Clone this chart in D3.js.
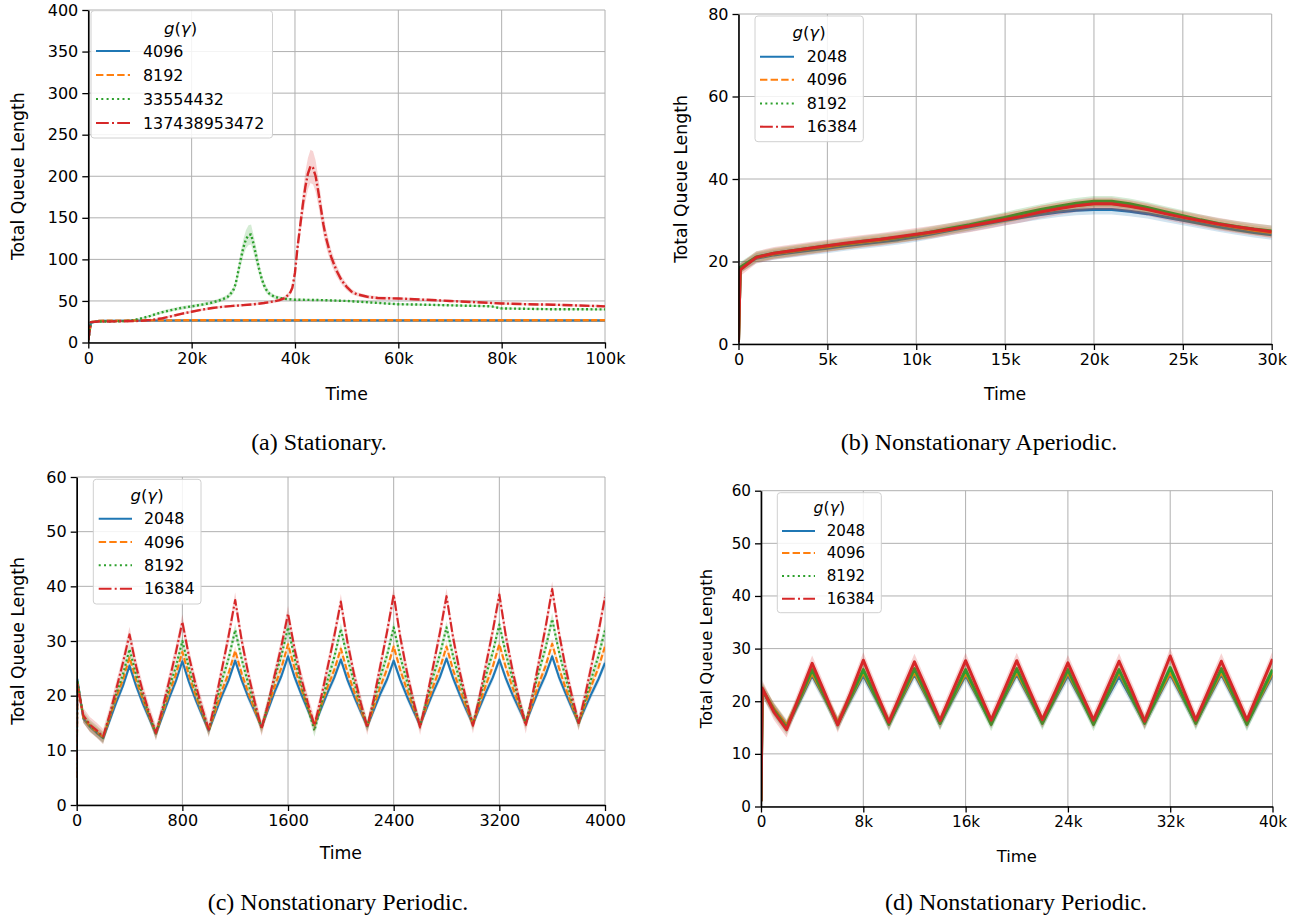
<!DOCTYPE html>
<html><head><meta charset="utf-8">
<script src="https://cdn.jsdelivr.net/npm/d3@7"></script>
<style>body{margin:0;background:#fff} svg{display:block}</style>
</head><body>
<svg id="chart" width="1300" height="917"></svg>
<script>
// ---------- shared ----------
const seriesColors = ["#1f77b4","#ff7f0e","#2ca02c","#d62728"];
const legendTitle = "g(γ)";

// ---------- panel (a) Stationary ----------
const aLabels = ["4096","8192","33554432","137438953472"];
const aXTicks = [0,20000,40000,60000,80000,100000];
const aYTicks = [0,50,100,150,200,250,300,350,400];
const aFlatT = [0,500,2000,10000,20000,30000,40000,50000,60000,70000,80000,90000,100000];
const aBlue = [3,24,25.8,26.3,26.4,26.4,26.5,26.4,26.5,26.4,26.5,26.4,26.5];
const aOrange = [3,24.5,26,26.6,26.7,26.7,26.8,26.7,26.8,26.7,26.8,26.7,26.8];
const aGreenT = [0,500,2000,6000,8000,10000,12000,14000,16000,18000,20000,22000,24000,26000,27000,28000,28500,29000,29500,30000,30500,31000,31500,32000,32500,33000,33500,34000,34500,35000,36000,37000,38000,40000,45000,50000,55000,60000,65000,70000,75000,78000,80000,85000,90000,95000,100000];
const aGreen = [3,24.5,25.2,25.5,26.0,28.5,32.0,36.0,39.0,41.5,43.5,45.5,48.0,52.0,55.0,62.0,70.0,85.0,100.0,114.0,124.0,129.0,130.0,118.0,104.0,90.0,78.0,69.0,63.0,59.0,55.0,53.5,52.5,51.5,51.0,50.0,48.0,46.0,45.5,44.7,44.0,43.5,41.0,40.5,40.0,40.0,39.8];
const aGreenCI = [0.5,1,1,1,1,1.2,1.5,1.8,2,2,2,2,2.2,2.5,3,4,5,7,9,10,11,12,12,11,10,8,6,5,4,3,2.5,2,1.5,1.5,1.2];
const aRedT = [0,500,2000,6000,10000,12000,14000,16000,18000,20000,22000,24000,26000,28000,30000,32000,34000,36000,37000,38000,39000,39500,40000,40500,41000,41500,42000,42500,43000,43500,44000,44500,45000,45500,46000,47000,48000,49000,50000,51000,52000,54000,56000,60000,65000,70000,75000,80000,85000,90000,95000,100000];
const aRed = [3,24.5,25.2,25.5,26.0,27.0,28.8,31.5,34.5,37.0,39.5,41.5,43.0,44.0,45.0,46.0,47.5,49.5,51.0,53.5,59.0,66.0,84.0,115.0,140.0,165.0,187.0,203.0,212.0,210.0,200.0,182.0,162.0,142.0,126.0,103.0,87.0,75.0,67.0,61.0,58.0,55.0,53.5,53.0,51.5,50.0,48.5,47.0,46.0,45.5,44.5,43.5];
const aRedCI = [0.5,1,1,1,1,1,1.2,1.5,1.5,1.5,1.5,1.5,1.5,1.5,1.5,1.5,1.5,2,2,2.5,3,4,6,9,12,15,18,19,20,20,19,17,15,13,11,9,7,5,4,3,2.5,2,2];

// ---------- panel (b) Nonstationary Aperiodic ----------
const bLabels = ["2048","4096","8192","16384"];
const bXTicks = [0,5000,10000,15000,20000,25000,30000];
const bYTicks = [0,20,40,60,80];
const bT = [0,100,1000,2000,3000,4000,5000,6000,7000,8000,9000,10000,11000,12000,13000,14000,15000,16000,17000,18000,19000,20000,21000,22000,23000,24000,25000,26000,27000,28000,29000,30000];
const bBlue = [0.5,18.5,20.8,21.6,22.2,22.7,23.2,23.8,24.3,24.8,25.3,26.0,26.8,27.6,28.4,29.2,30.0,30.7,31.4,32.0,32.4,32.6,32.6,32.2,31.6,30.8,30.0,29.2,28.4,27.7,27.0,26.5];
const bOrange = [0.5,18.3,21.0,21.9,22.5,23.1,23.6,24.2,24.7,25.2,25.8,26.4,27.1,27.9,28.7,29.6,30.5,31.4,32.3,33.0,33.6,34.0,34.0,33.5,32.7,31.8,30.8,29.9,29.0,28.3,27.6,27.0];
const bGreen = [0.5,18.6,21.1,22.0,22.6,23.2,23.8,24.3,24.9,25.4,25.9,26.5,27.3,28.1,28.9,29.8,30.7,31.7,32.6,33.4,34.1,34.6,34.6,34.0,33.1,32.1,31.1,30.1,29.2,28.5,27.9,27.4];
const bRed = [0.5,18.0,21.0,22.0,22.6,23.2,23.8,24.4,24.9,25.4,26.0,26.6,27.2,27.9,28.6,29.4,30.2,31.0,32.0,32.8,33.5,34.0,34.0,33.4,32.6,31.6,30.7,29.9,29.1,28.4,27.8,27.2];
const bCI = [1.2,1.2,1.3,1.5];

// ---------- panel (c) Nonstationary Periodic ----------
const cLabels = ["2048","4096","8192","16384"];
const cXTicks = [0,800,1600,2400,3200,4000];
const cYTicks = [0,10,20,30,40,50,60];
const cT = [0,5,50,100,150,200,250,300,350,400,450,500,550,600,650,700,750,800,850,900,950,1000,1050,1100,1150,1200,1250,1300,1350,1400,1450,1500,1550,1600,1650,1700,1750,1800,1850,1900,1950,2000,2050,2100,2150,2200,2250,2300,2350,2400,2450,2500,2550,2600,2650,2700,2750,2800,2850,2900,2950,3000,3050,3100,3150,3200,3250,3300,3350,3400,3450,3500,3550,3600,3650,3700,3750,3800,3850,3900,3950,4000];
const cBlue = [5,23,15.8,14.3,13.2,12.2,15.5,18.8,21.8,25.5,21.8,18.6,15.8,13.0,16.3,19.6,22.6,26.3,22.5,19.3,16.4,13.6,16.8,20.0,22.8,26.4,22.8,19.7,17.0,14.3,17.5,20.8,23.6,27.2,23.4,20.3,17.4,14.6,17.6,20.6,23.3,26.6,22.9,19.9,17.1,14.4,17.4,20.4,23.0,26.4,22.9,19.9,17.2,14.6,17.7,20.7,23.4,26.8,23.2,20.2,17.4,14.8,17.8,20.7,23.3,26.6,23.1,20.2,17.6,15.0,18.1,21.1,23.8,27.2,23.5,20.5,17.7,15.0,17.8,20.5,23.0,26.0];
const cOrange = [5,22.5,16.0,14.4,13.4,12.4,16.0,19.7,22.9,27.0,22.8,19.4,16.2,13.1,16.8,20.5,23.8,28.0,23.7,20.1,16.8,13.7,17.3,21.0,24.1,28.2,24.0,20.5,17.3,14.2,18.0,21.8,25.1,29.4,25.0,21.3,17.9,14.6,18.1,21.6,24.7,28.6,24.3,20.8,17.5,14.4,18.0,21.7,24.9,29.0,24.7,21.1,17.8,14.6,18.2,21.8,25.0,29.0,24.7,21.2,17.9,14.8,18.4,22.1,25.3,29.4,25.1,21.5,18.2,15.0,18.6,22.3,25.4,29.5,25.2,21.5,18.2,15.0,18.5,22.0,25.1,29.0];
const cGreen = [5,22.8,16.2,14.5,13.5,12.3,16.3,20.4,23.9,28.5,23.9,20.0,16.4,13.0,17.3,21.5,25.2,30.0,25.1,21.0,17.2,13.6,18.2,22.8,26.8,32.0,26.6,22.1,18.0,14.0,18.6,23.3,27.3,32.5,26.8,22.1,17.8,13.6,18.3,22.9,27.0,32.2,26.9,22.4,18.3,14.4,18.9,23.5,27.4,32.5,27.1,22.7,18.5,14.6,19.1,23.6,27.5,32.5,27.2,22.8,18.7,14.8,19.4,23.9,27.9,33.0,27.6,23.1,19.0,15.0,19.8,24.5,28.7,34.0,28.2,23.4,19.0,14.8,19.1,23.4,27.2,32.0];
const cRed = [5,22,16.4,14.7,13.7,12.5,16.6,21.3,26.0,31.2,25.4,20.8,16.8,13.2,17.7,22.7,27.8,33.5,27.2,22.1,17.7,13.8,19.0,24.9,30.9,37.5,30.0,23.9,18.7,14.0,18.6,23.9,29.1,35.0,28.5,23.2,18.7,14.6,19.6,25.2,30.9,37.2,29.8,23.9,18.8,14.2,19.5,25.6,31.7,38.5,30.7,24.4,19.0,14.2,19.5,25.5,31.5,38.2,30.6,24.4,19.2,14.5,19.8,25.8,31.8,38.5,30.8,24.6,19.3,14.5,20.0,26.3,32.5,39.5,31.7,25.3,19.9,15.0,20.1,25.8,31.6,38.0];
const cCI = [0.8,0.9,1.1,1.4];

// ---------- panel (d) Nonstationary Periodic ----------
const dLabels = ["2048","4096","8192","16384"];
const dXTicks = [0,8000,16000,24000,32000,40000];
const dYTicks = [0,10,20,30,40,50,60];
const dT = [0,100,1000,2000,3000,4000,5000,6000,7000,8000,9000,10000,11000,12000,13000,14000,15000,16000,17000,18000,19000,20000,21000,22000,23000,24000,25000,26000,27000,28000,29000,30000,31000,32000,33000,34000,35000,36000,37000,38000,39000,40000];
const dBlue = [1,22.0,18.5,15.2,20.0,25.0,20.5,15.8,20.4,25.0,20.5,15.8,20.5,25.2,20.6,15.8,20.5,25.0,20.5,16.0,20.6,25.2,20.6,16.0,20.5,25.0,20.5,16.0,20.4,24.8,20.4,16.0,20.6,25.2,20.6,16.0,20.6,25.2,20.5,15.8,20.4,25.0];
const dOrange = [1,22.2,18.6,15.4,20.3,25.4,20.7,16.0,20.7,25.5,20.8,16.1,20.8,25.6,20.9,16.1,20.8,25.4,20.8,16.2,20.9,25.6,20.9,16.2,20.8,25.5,20.8,16.2,20.8,25.6,20.8,16.2,20.9,25.6,20.9,16.2,20.9,25.6,20.8,16.0,20.7,25.4];
const dGreen = [1,22.3,18.3,15.0,20.4,26.0,20.8,15.6,20.8,26.0,20.8,15.6,20.9,26.2,21.0,15.8,20.9,26.0,20.8,15.6,20.9,26.2,21.0,15.8,20.9,26.0,20.8,15.6,20.8,26.0,20.8,15.8,21.0,26.4,21.0,15.8,21.0,26.2,20.9,15.6,20.9,26.0];
const dRed = [1,22.5,18.0,14.6,21.0,27.2,21.5,15.5,21.5,27.8,21.8,16.0,21.8,27.5,22.0,16.3,22.0,27.7,22.0,16.4,22.0,27.7,22.0,16.5,21.8,27.3,21.8,16.4,22.0,27.6,22.0,16.2,22.4,28.6,22.4,16.4,22.0,27.6,22.0,16.4,22.2,28.0];
const dCI = [1.2,1.2,1.3,1.5];

// ---------- drawing ----------
const svg = d3.select("#chart");
const defs = svg.append("defs");
const DASH_FOR = ["", "7.4,3.2", "2,3.3", "12.8,3.2,2,3.2"];
const PLOT_DASH = ["", "6,2.5", "2,2.5", "10,2.5,2,2.5"];
const kFmt = d => d === 0 ? "0" : (d/1000) + "k";

function drawPanel(cfg) {
  const fs = cfg.fs || 1;
  const g = svg.append("g");
  const x = d3.scaleLinear().domain(cfg.xDomain).range([cfg.x0, cfg.x1]);
  const y = d3.scaleLinear().domain(cfg.yDomain).range([cfg.yBottom, cfg.yTop]);

  defs.append("clipPath").attr("id", "clip" + cfg.id).append("rect")
    .attr("x", cfg.x0).attr("y", cfg.yTop)
    .attr("width", cfg.x1 - cfg.x0).attr("height", cfg.yBottom - cfg.yTop);

  // grid
  const grid = g.append("g").attr("stroke", "#b0b0b0").attr("stroke-width", 1);
  grid.selectAll(".gx").data(cfg.xTicks).join("line")
    .attr("x1", d => x(d)).attr("x2", d => x(d)).attr("y1", cfg.yTop).attr("y2", cfg.yBottom);
  grid.selectAll(".gy").data(cfg.yTicks).join("line")
    .attr("x1", cfg.x0).attr("x2", cfg.x1).attr("y1", d => y(d)).attr("y2", d => y(d));

  const plot = g.append("g").attr("clip-path", `url(#clip${cfg.id})`);
  cfg.series.forEach((s, i) => {
    const pts = s.t.map((t, j) => ({
      t, v: s.v[j],
      c: (s.ci && s.ci[j] !== undefined) ? s.ci[j] : s.ciDefault
    }));
    plot.append("path").datum(pts)
      .attr("d", d3.line().x(d => x(d.t)).y(d => y(d.v)))
      .attr("fill", "none").attr("stroke", seriesColors[i])
      .attr("stroke-width", cfg.lineWidth)
      .attr("stroke-linejoin", "round")
      .attr("stroke-dasharray", cfg.plainLines ? null : (PLOT_DASH[i] || null));
    plot.append("path").datum(pts)
      .attr("d", d3.area().x(d => x(d.t)).y0(d => y(d.v - d.c)).y1(d => y(d.v + d.c)))
      .attr("fill", seriesColors[i]).attr("fill-opacity", 0.2).attr("stroke", "none");
  });

  // axes
  const tickFont = 16 * fs;
  const xAxis = d3.axisBottom(x).tickValues(cfg.xTicks).tickFormat(cfg.xFmt)
    .tickSize(6).tickSizeOuter(0).tickPadding(4);
  const yAxis = d3.axisLeft(y).tickValues(cfg.yTicks).tickFormat(d3.format("d"))
    .tickSize(6).tickSizeOuter(0).tickPadding(4);
  const gx = g.append("g").attr("transform", `translate(0,${cfg.yBottom})`).call(xAxis);
  const gy = g.append("g").attr("transform", `translate(${cfg.x0},0)`).call(yAxis);
  [gx, gy].forEach(a => {
    a.select(".domain").attr("stroke", "#000").attr("stroke-width", 1.6);
    a.selectAll(".tick line").attr("stroke", "#000").attr("stroke-width", 1.3);
    a.selectAll(".tick text").attr("fill", "#000")
      .attr("font-family", "DejaVu Sans").attr("font-size", tickFont);
  });

  // axis labels
  g.append("text").attr("x", (cfg.x0 + cfg.x1) / 2).attr("y", cfg.timeY)
    .attr("text-anchor", "middle").attr("dominant-baseline", "central")
    .attr("font-family", "DejaVu Sans").attr("font-size", 17.3 * fs).text("Time");
  g.append("text")
    .attr("transform", `translate(${cfg.ylabelX},${(cfg.yTop + cfg.yBottom) / 2}) rotate(-90)`)
    .attr("text-anchor", "middle").attr("dominant-baseline", "central")
    .attr("font-family", "DejaVu Sans").attr("font-size", 17.3 * fs).text("Total Queue Length");

  // legend
  const L = cfg.legend;
  const lg = g.append("g");
  lg.append("rect").attr("x", L.x).attr("y", L.y).attr("width", L.w).attr("height", L.h)
    .attr("rx", 3).attr("fill", "#fff").attr("fill-opacity", 0.85)
    .attr("stroke", "#d0d0d0").attr("stroke-width", 1);
  const tt = lg.append("text").attr("x", L.titleX).attr("y", L.titleY)
    .attr("text-anchor", "middle").attr("dominant-baseline", "central")
    .attr("font-family", "DejaVu Sans").attr("font-size", 16.5 * fs);
  tt.append("tspan").attr("font-style", "italic").text(legendTitle[0]);
  tt.append("tspan").text(legendTitle[1]);
  tt.append("tspan").attr("font-style", "italic").text(legendTitle[2]);
  tt.append("tspan").text(legendTitle[3]);
  cfg.labels.forEach((lab, i) => {
    const ry = L.rows[i];
    lg.append("line").attr("x1", L.hx0).attr("x2", L.hx1).attr("y1", ry).attr("y2", ry)
      .attr("stroke", seriesColors[i]).attr("stroke-width", 2.1)
      .attr("stroke-dasharray", DASH_FOR[i] || null);
    lg.append("text").attr("x", L.tx).attr("y", ry).attr("dominant-baseline", "central")
      .attr("font-family", "DejaVu Sans").attr("font-size", 15.9 * fs).text(lab);
  });

  // caption
  svg.append("text").attr("x", cfg.caption.x).attr("y", cfg.caption.y)
    .attr("text-anchor", "middle").attr("dominant-baseline", "central")
    .attr("font-family", "Liberation Serif").attr("font-size", 24).text(cfg.caption.text);
}

drawPanel({
  id: "a", x0: 88.3, x1: 605, yBottom: 342.5, yTop: 10,
  xDomain: [0, 100000], yDomain: [0, 400], xTicks: aXTicks, yTicks: aYTicks, xFmt: kFmt,
  lineWidth: 2.4,
  series: [
    {t: aFlatT, v: aBlue, ciDefault: 0.6},
    {t: aFlatT, v: aOrange, ciDefault: 0.6},
    {t: aGreenT, v: aGreen, ci: aGreenCI, ciDefault: 1.2},
    {t: aRedT, v: aRed, ci: aRedCI, ciDefault: 1.5}
  ],
  labels: aLabels, timeY: 394, ylabelX: 18,
  legend: {x: 91, y: 10.7, w: 181.5, h: 127.3, titleX: 180.5, titleY: 27.5,
           rows: [51, 75, 99, 123], hx0: 96, hx1: 130, tx: 143},
  caption: {x: 319, y: 442, text: "(a) Stationary."}
});

drawPanel({
  id: "b", x0: 738.5, x1: 1271.7, yBottom: 344, yTop: 14,
  xDomain: [0, 30000], yDomain: [0, 80], xTicks: bXTicks, yTicks: bYTicks, xFmt: kFmt,
  lineWidth: 3.0, plainLines: true,
  series: [
    {t: bT, v: bBlue, ciDefault: bCI[0]},
    {t: bT, v: bOrange, ciDefault: bCI[1]},
    {t: bT, v: bGreen, ciDefault: bCI[2]},
    {t: bT, v: bRed, ciDefault: bCI[3]}
  ],
  labels: bLabels, timeY: 394, ylabelX: 681,
  legend: {x: 755, y: 16, w: 108.3, h: 125.7, titleX: 809, titleY: 31.5,
           rows: [56.7, 79.7, 103.5, 126.7], hx0: 760, hx1: 794, tx: 806.7},
  caption: {x: 979, y: 442, text: "(b) Nonstationary Aperiodic."}
});

drawPanel({
  id: "c", x0: 76.7, x1: 605, yBottom: 805, yTop: 477,
  xDomain: [0, 4000], yDomain: [0, 60], xTicks: cXTicks, yTicks: cYTicks, xFmt: d3.format("d"),
  lineWidth: 2.1,
  series: [
    {t: cT, v: cBlue, ciDefault: cCI[0]},
    {t: cT, v: cOrange, ciDefault: cCI[1]},
    {t: cT, v: cGreen, ciDefault: cCI[2]},
    {t: cT, v: cRed, ciDefault: cCI[3]}
  ],
  labels: cLabels, timeY: 853, ylabelX: 18,
  legend: {x: 93.3, y: 479.3, w: 107.7, h: 124.7, titleX: 147, titleY: 494.5,
           rows: [518.7, 542, 565.3, 588.7], hx0: 98.7, hx1: 132, tx: 144},
  caption: {x: 338, y: 902, text: "(c) Nonstationary Periodic."}
});

drawPanel({
  id: "d", x0: 761, x1: 1272.5, yBottom: 806.5, yTop: 490.7, fs: 0.95,
  xDomain: [0, 40000], yDomain: [0, 60], xTicks: dXTicks, yTicks: dYTicks, xFmt: kFmt,
  lineWidth: 3.0, plainLines: true,
  series: [
    {t: dT, v: dBlue, ciDefault: dCI[0]},
    {t: dT, v: dOrange, ciDefault: dCI[1]},
    {t: dT, v: dGreen, ciDefault: dCI[2]},
    {t: dT, v: dRed, ciDefault: dCI[3]}
  ],
  labels: dLabels, timeY: 856, ylabelX: 706,
  legend: {x: 777.3, y: 492.7, w: 104, h: 120, titleX: 829.3, titleY: 507,
           rows: [531, 553, 576, 598.7], hx0: 782, hx1: 815, tx: 826.7},
  caption: {x: 1016, y: 902, text: "(d) Nonstationary Periodic."}
});
</script>
</body></html>
